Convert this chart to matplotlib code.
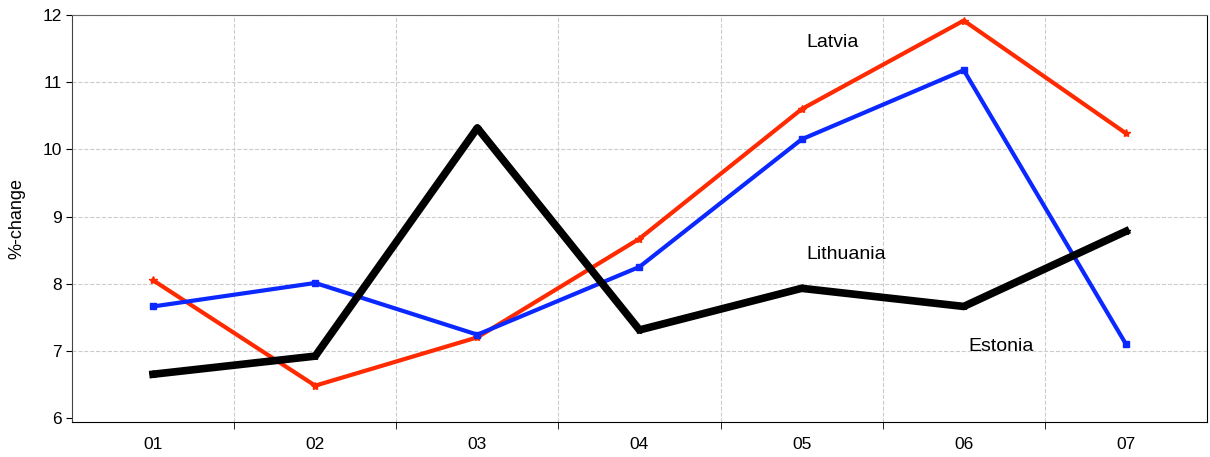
import matplotlib
matplotlib.use('Agg')
import matplotlib.pyplot as plt
import numpy as np

plt.rcParams['font.family'] = ['Liberation Sans', 'DejaVu Sans']

years = ['01', '02', '03', '04', '05', '06', '07']
latvia = [8.05, 6.48, 7.2, 8.67, 10.6, 11.92, 10.24]
estonia = [7.66, 8.01, 7.24, 8.25, 10.15, 11.18, 7.1]
lithuania = [6.65, 6.92, 10.32, 7.31, 7.93, 7.66, 8.78]

fig = plt.figure(figsize=(12.1, 4.57), dpi=100)
ax = fig.add_axes([0.0595, 0.0768, 0.938, 0.890])

x = np.arange(len(years))
ax.plot(x, latvia, color='#ff2a00', lw=3, marker='*', ms=6, zorder=3)
ax.plot(x, estonia, color='#0a28ff', lw=3, marker='s', ms=5, zorder=3)
ax.plot(x, lithuania, color='black', lw=5.5, marker='*', ms=6, zorder=4)

ax.set_xlim(-0.5, 6.5)
ax.set_ylim(5.94, 12)
ax.set_yticks(range(6, 13))
ax.set_xticks(x)
ax.set_xticklabels(years)
ax.tick_params(axis='x', length=0, labelsize=12.5, pad=11)
ax.set_xticks(np.arange(0.5, 6.5, 1), minor=True)
ax.tick_params(axis='x', which='minor', length=5, direction='out')
ax.tick_params(axis='y', length=4, labelsize=12.5, direction='out')

ax.grid(True, which='major', axis='y', ls='--', color='#cccccc', lw=0.8)
ax.grid(True, which='minor', axis='x', ls='--', color='#cccccc', lw=0.8)
ax.get_ygridlines()[0].set_visible(False)
ax.set_axisbelow(True)

ax.spines['top'].set_color('#666666')
ax.spines['left'].set_color('#444444')

ax.set_ylabel('%-change', fontsize=13, labelpad=12)

ax.text(4.03, 11.6, 'Latvia', fontsize=14, va='center', ha='left')
ax.text(4.03, 8.43, 'Lithuania', fontsize=14, va='center', ha='left')
ax.text(5.03, 7.07, 'Estonia', fontsize=14, va='center', ha='left')

fig.savefig('out.png', dpi=100)
